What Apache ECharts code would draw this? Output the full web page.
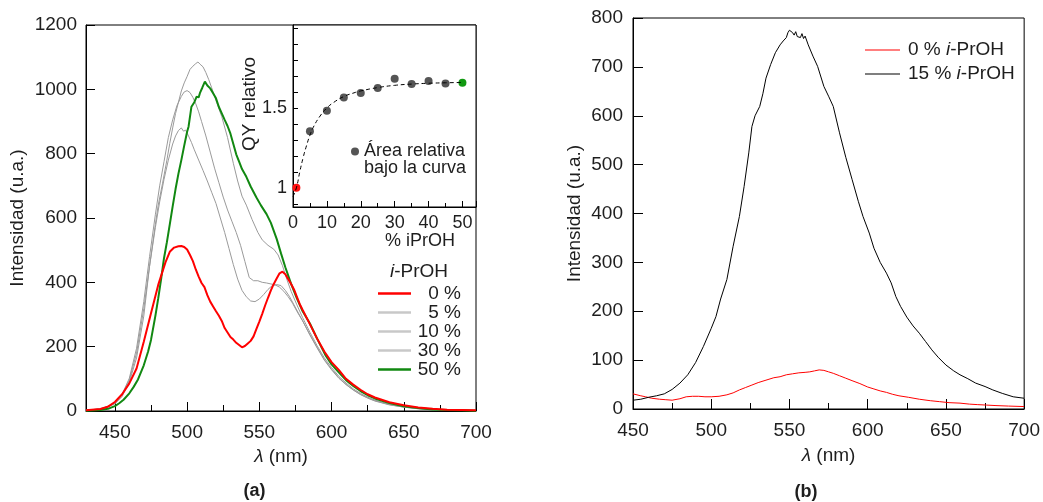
<!DOCTYPE html>
<html><head><meta charset="utf-8">
<script src="https://cdn.jsdelivr.net/npm/echarts@6/dist/echarts.min.js"></script>
<style>html,body{margin:0;padding:0;background:#fff}#c{width:1043px;height:502px}</style>
</head><body><div id="c"></div>
<script>
// ---------- Panel (a): spectra ----------
const wl0 = [430,440,445,450,455,460,465,470,475,480,485,488,491,494,496,498,500,502,504,506,508,510,512,514,516,518,520,522,524,526,528,530,532,534,536,538,540,542,544,546,548,550,552,554,556,558,560,562,564,566,568,570,572,574,576,578,580,585,590,595,600,605,610,615,620,625,630,640,650,660,670,680,690,700];
const int0 = [2,6,13,28,52,86,132,215,304,392,462,495,508,512,513,510,502,485,466,440,418,398,385,360,340,325,310,296,280,258,244,230,222,212,205,198,202,210,218,232,255,278,302,328,352,375,395,412,428,433,425,410,395,378,355,332,314,270,225,185,152,128,100,82,66,52,42,27,18,11,7,4,3,2];

const wl5 = [430,440,445,450,455,460,465,470,474,478,481,484,487,490,492,494,496,497.5,499,501,503,505,508,511,514,517,520,523,526,529,532,535,538,541,544,547,550,553,556,559,562,565,568,571,574,577,580,585,590,595,600,605,610,615,620,625,630,640,650,660,670,680,700];
const int5 = [2,7,14,24,50,96,180,318,450,570,650,720,780,830,855,872,880,870,873,855,835,812,780,748,715,680,645,600,555,505,455,410,375,355,342,340,348,362,378,390,393,390,375,355,330,305,280,236,196,158,128,102,82,65,51,40,31,19,12,7,4,2,1];

const wl10 = [430,440,445,450,455,460,465,470,474,478,481,484,487,490,493,496,498,500,502,504,506,508,510,513,516,519,522,525,528,531,534,537,540,543,546,549,552,555,558,561,564,567,570,573,576,580,585,590,595,600,605,610,615,620,625,630,640,650,660,670,680,700];
const int10 = [2,7,14,25,52,102,195,340,480,610,700,775,850,905,950,978,992,996,990,975,955,930,900,855,805,755,710,665,625,590,555,515,465,415,405,405,400,398,395,392,385,372,355,335,310,280,238,198,160,130,104,83,66,52,41,32,20,12,7,4,3,1];

const wl30 = [430,440,445,450,455,460,465,470,474,478,480,483,486,488,490,492,494,496,498,500,502,504,506,507.5,509,511,513,515,517,520,524,528,532,535,538,541,545,549,552,556,560,563,566,569,572,576,580,585,590,595,600,605,610,615,620,625,630,640,650,660,670,680,700];
const int30 = [2,6,12,22,45,90,165,295,450,580,640,708,780,832,880,925,960,995,1020,1040,1062,1072,1080,1085,1078,1070,1052,1030,1005,965,915,850,770,715,668,640,595,555,532,515,503,485,452,410,372,330,290,245,203,165,135,108,87,69,55,43,34,21,13,8,5,3,1];

const wl50 = [430,440,446,450,453,456,460,463,466,470,473,475,478,480,482,484,486,488,490,492,494,496,498,500,501,503,505,506.6,508,509,510.5,512.3,514,516,518,520,522,524,526,528,530,532,534,536,538,541,544,548,551,555,558,562,565,568,572,576,580,585,590,596,600,605,610,615,620,625,630,640,650,660,670,680,690,700];
const int50 = [1,3,8,15,24,35,55,75,98,142,185,221,295,350,410,475,525,580,636,690,738,780,825,868,884,946,960,977,975,990,1005,1024,1012,1003,988,972,945,925,905,886,862,830,798,775,752,728,698,664,640,612,585,535,490,447,395,350,310,272,225,172,145,120,96,78,62,49,39,25,15,9,5,3,2,1];

const seriesNamesA = ['0 %','5 %','10 %','30 %','50 %'];
const xTicksA = [450,500,550,600,650,700];
const xMinorTicksA = [475,525,575,625,675];

// ---------- Inset: relative QY ----------
const qyPct = [1,5,10,15,20,25,30,35,40,45,50];
const qyVal = [1.0,1.355,1.483,1.566,1.594,1.625,1.683,1.65,1.67,1.654,1.658];
const fitPct = [0,1,2,3,4,5,6,8,10,12,15,18,20,25,30,35,40,45,50];
const fitVal = [0.945,1.0,1.1,1.19,1.265,1.33,1.38,1.45,1.5,1.535,1.572,1.595,1.607,1.628,1.642,1.65,1.655,1.658,1.66];
const insetYTicks = [0.9,1.0,1.1,1.2,1.3,1.4,1.5,1.6,1.7,1.8,1.9,2.0];
const insetYLabels = [1,1.5];

// ---------- Panel (b) ----------
const wlB15 = [450,455,460,465,470,475,480,485,490,495,500,503,506,510,514,518,521,524,526,528,531,533,535,538,541,544,546,547,548,549,550,551,552,553,554,555,556,557,558,559,560,562,565,568,572,575,578,582,586,590,594,597,601,604,608,612,615,618,621,625,629,633,637,641,645,650,655,659,664,669,675,680,686,693,700];
const intB15 = [18,20,24,27,31,40,53,70,95,128,165,189,225,265,333,394,455,524,578,600,619,645,677,705,729,745,753,750,760,770,775,778,770,765,772,762,765,760,768,758,763,745,722,701,660,640,619,565,515,470,425,394,360,329,300,278,258,230,210,188,170,155,138,121,106,90,78,70,62,53,46,39,32,25,22];
const wlB0 = [450,455,458,462,467,471,475,480,484,488,492,496,500,505,510,514,518,522,526,530,535,540,544,548,552,556,560,563,566,569,572,575,578,582,586,590,595,600,604,608,612,616,620,626,633,640,646,652,659,665,670,676,682,690,700];
const intB0 = [31,27,25,22,20,19,18,21,25,26,26,25,25,26,29,33,39,44,49,54,59,64,66,70,72,74,75,76,78,80,79,76,73,68,63,58,52,45,41,37,34,30,27,24,20,17,15,13,12,10,9,8,7,6,5];
const seriesNamesB = ['0 % i-PrOH','15 % i-PrOH'];

const FONT = '"Liberation Sans", Arial, Helvetica, sans-serif';
const TXT = '#1e1e1e';
const FS = 19;
function pairs(x, y) { return x.map((v, i) => [v, y[i]]); }
const plain = v => String(v);

const lamName = '{l|λ} (nm)';
const nameStyle = {fontSize: FS, color: TXT, fontFamily: FONT, rich: {l: {fontStyle: 'italic', fontSize: FS, color: TXT, fontFamily: FONT}}};

const chart = echarts.init(document.getElementById('c'));
const option = {
  animation: false,
  textStyle: {fontFamily: FONT},
  grid: [
    {left: 86, top: 25, width: 390, height: 386, show: true, borderColor: '#000', borderWidth: 1},
    {left: 293, top: 25, width: 183, height: 182, show: true, borderColor: '#000', borderWidth: 1, backgroundColor: '#fff'},
    {left: 633, top: 18, width: 392, height: 391, show: true, borderColor: '#000', borderWidth: 1}
  ],
  xAxis: [
    {gridIndex: 0, type: 'value', min: 430, max: 700, position: 'bottom',
     axisLine: {lineStyle: {color: '#000', width: 1}},
     axisTick: {inside: true, length: 9, customValues: xTicksA, lineStyle: {color: '#000'}},
     axisLabel: {customValues: xTicksA, fontSize: FS, color: TXT, margin: 12, fontFamily: FONT, formatter: plain},
     splitLine: {show: false},
     name: lamName, nameLocation: 'middle', nameGap: 36, nameTextStyle: nameStyle},
    {gridIndex: 0, type: 'value', min: 430, max: 700, position: 'bottom',
     axisLine: {show: false},
     axisTick: {inside: true, length: 6, customValues: xMinorTicksA, lineStyle: {color: '#000'}},
     axisLabel: {show: false}, splitLine: {show: false}},
    {gridIndex: 1, type: 'value', min: 0, max: 54, interval: 10, position: 'bottom',
     axisLine: {lineStyle: {color: '#000'}},
     axisTick: {inside: true, length: 6, lineStyle: {color: '#000'}},
     minorTick: {show: true, splitNumber: 2, length: 4, lineStyle: {color: '#000'}},
     axisLabel: {fontSize: 18, color: TXT, margin: 7, fontFamily: FONT, showMaxLabel: false, formatter: plain},
     splitLine: {show: false}},
    {gridIndex: 2, type: 'value', min: 450, max: 700, interval: 50, position: 'bottom',
     axisLine: {lineStyle: {color: '#000'}},
     axisTick: {inside: true, length: 10, lineStyle: {color: '#000'}},
     minorTick: {show: true, splitNumber: 2, length: 6, lineStyle: {color: '#000'}},
     axisLabel: {fontSize: FS, color: TXT, margin: 12, fontFamily: FONT, formatter: plain},
     splitLine: {show: false},
     name: lamName, nameLocation: 'middle', nameGap: 37, nameTextStyle: nameStyle}
  ],
  yAxis: [
    {gridIndex: 0, type: 'value', min: 0, max: 1200, interval: 200,
     axisLine: {show: true, lineStyle: {color: '#000'}},
     axisTick: {show: true, inside: true, length: 9, lineStyle: {color: '#000'}},
     axisLabel: {fontSize: FS, color: TXT, margin: 9, fontFamily: FONT, formatter: plain},
     splitLine: {show: false},
     name: 'Intensidad (u.a.)', nameLocation: 'middle', nameRotate: 90, nameGap: 59,
     nameTextStyle: {fontSize: FS, color: TXT, fontFamily: FONT}},
    {gridIndex: 1, type: 'value', min: 0.88, max: 2.02,
     axisLine: {show: true, lineStyle: {color: '#000'}},
     axisTick: {show: true, inside: true, length: 5, customValues: insetYTicks, lineStyle: {color: '#000'}},
     axisLabel: {customValues: insetYLabels, fontSize: 18, color: TXT, margin: 6, fontFamily: FONT, formatter: plain},
     splitLine: {show: false}},
    {gridIndex: 2, type: 'value', min: 0, max: 800, interval: 100,
     axisLine: {show: true, lineStyle: {color: '#000'}},
     axisTick: {show: true, inside: true, length: 10, lineStyle: {color: '#000'}},
     axisLabel: {fontSize: FS, color: TXT, margin: 10, fontFamily: FONT, formatter: plain},
     splitLine: {show: false},
     name: 'Intensidad (u.a.)', nameLocation: 'middle', nameRotate: 90, nameGap: 49,
     nameTextStyle: {fontSize: FS, color: TXT, fontFamily: FONT}}
  ],
  legend: [
    {left: 373, top: 279, orient: 'vertical', itemWidth: 33, itemHeight: 2.5, itemGap: 0, icon: 'rect',
     data: [
       {name: seriesNamesA[0], itemStyle: {color: '#ff0000'}},
       {name: seriesNamesA[1], itemStyle: {color: '#c8c8c8'}},
       {name: seriesNamesA[2], itemStyle: {color: '#c8c8c8'}},
       {name: seriesNamesA[3], itemStyle: {color: '#c8c8c8'}},
       {name: seriesNamesA[4], itemStyle: {color: '#118811'}}],
     formatter: n => '{r|' + n + '}',
     textStyle: {fontSize: FS, color: TXT, fontFamily: FONT,
       rich: {r: {width: 45, align: 'right', fontSize: FS, lineHeight: 18.8, color: TXT, fontFamily: FONT}}}},
    {left: 346, top: 121, orient: 'vertical', itemWidth: 8, itemHeight: 8, icon: 'circle',
     data: ['Área relativa bajo la curva'],
     formatter: () => ' \nÁrea relativa\nbajo la curva',
     textStyle: {fontSize: 18, color: TXT, fontFamily: FONT, lineHeight: 16.5}},
    {left: 860, top: 35, orient: 'vertical', itemWidth: 35, itemHeight: 1.2, itemGap: 4, icon: 'rect',
     data: seriesNamesB,
     formatter: n => n.replace('i-', '{it|i}-'),
     textStyle: {fontSize: FS, color: TXT, fontFamily: FONT, lineHeight: 20, padding: [0, 0, 0, 3],
       rich: {it: {fontStyle: 'italic', fontSize: FS, color: TXT, fontFamily: FONT}}}}
  ],
  series: [
    {name: seriesNamesA[1], type: 'line', xAxisIndex: 0, yAxisIndex: 0, data: pairs(wl5, int5), showSymbol: false, lineStyle: {color: '#9a9a9a', width: 1}, itemStyle: {color: '#9a9a9a'}},
    {name: seriesNamesA[2], type: 'line', xAxisIndex: 0, yAxisIndex: 0, data: pairs(wl10, int10), showSymbol: false, lineStyle: {color: '#9a9a9a', width: 1}, itemStyle: {color: '#9a9a9a'}},
    {name: seriesNamesA[3], type: 'line', xAxisIndex: 0, yAxisIndex: 0, data: pairs(wl30, int30), showSymbol: false, lineStyle: {color: '#9a9a9a', width: 1}, itemStyle: {color: '#9a9a9a'}},
    {name: seriesNamesA[4], type: 'line', xAxisIndex: 0, yAxisIndex: 0, data: pairs(wl50, int50), showSymbol: false, lineStyle: {color: '#118811', width: 2}, itemStyle: {color: '#118811'}},
    {name: seriesNamesA[0], type: 'line', xAxisIndex: 0, yAxisIndex: 0, data: pairs(wl0, int0), showSymbol: false, lineStyle: {color: '#ff0000', width: 2}, itemStyle: {color: '#ff0000'}},
    {name: 'fit', type: 'line', xAxisIndex: 2, yAxisIndex: 1, data: pairs(fitPct, fitVal), showSymbol: false, smooth: true, lineStyle: {color: '#000', width: 1, type: [4, 3]}},
    {name: 'Área relativa bajo la curva', type: 'scatter', xAxisIndex: 2, yAxisIndex: 1, symbolSize: 8,
     itemStyle: {color: '#555555', opacity: 1},
     data: qyPct.map((p, i) => {
       const d = {value: [p, qyVal[i]]};
       if (i === 0) d.itemStyle = {color: '#ff1010'};
       if (i === qyPct.length - 1) d.itemStyle = {color: '#119911'};
       return d;
     })},
    {name: seriesNamesB[0], type: 'line', xAxisIndex: 3, yAxisIndex: 2, data: pairs(wlB0, intB0), showSymbol: false, lineStyle: {color: '#ff0000', width: 1}, itemStyle: {color: '#ff0000'}},
    {name: seriesNamesB[1], type: 'line', xAxisIndex: 3, yAxisIndex: 2, data: pairs(wlB15, intB15), showSymbol: false, lineStyle: {color: '#000', width: 1}, itemStyle: {color: '#000'}}
  ],
  graphic: [
    {type: 'text', x: 419, y: 272, style: {text: '{it|i}-PrOH', fontSize: FS, fill: TXT, fontFamily: FONT, align: 'center', verticalAlign: 'middle',
      rich: {it: {fontStyle: 'italic', fontSize: FS, fill: TXT, fontFamily: FONT}}}},
    {type: 'text', x: 249.5, y: 104, rotation: Math.PI / 2, style: {text: 'QY relativo', fontSize: FS, fill: TXT, fontFamily: FONT, align: 'center', verticalAlign: 'middle'}},
    {type: 'text', x: 420, y: 241, style: {text: '% iPrOH', fontSize: 18, fill: TXT, fontFamily: FONT, align: 'center', verticalAlign: 'middle'}},
    {type: 'text', x: 254.5, y: 491, style: {text: '(a)', fontSize: 18, fontWeight: 'bold', fill: TXT, fontFamily: FONT, align: 'center', verticalAlign: 'middle'}},
    {type: 'text', x: 806, y: 492, style: {text: '(b)', fontSize: 18, fontWeight: 'bold', fill: TXT, fontFamily: FONT, align: 'center', verticalAlign: 'middle'}}
  ]
};
chart.setOption(option);
</script>
</body></html>
